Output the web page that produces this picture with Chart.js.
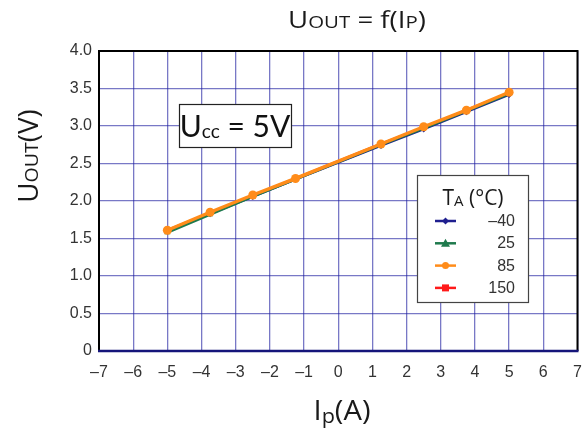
<!DOCTYPE html>
<html>
<head>
<meta charset="utf-8">
<script src="https://cdn.jsdelivr.net/npm/chart.js@4"></script>
<style>
  html, body { margin: 0; padding: 0; background: #fff; }
  #wrap { width: 582px; height: 430px; }
</style>
</head>
<body>
<div id="wrap"><canvas id="uoutChart" width="582" height="430"></canvas></div>
<script>
// U_OUT = f(I_P) at Ucc = 5V, four temperatures
const currentA = [-5, -3.75, -2.5, -1.25, 1.25, 2.5, 3.75, 5];
const uoutM40 = [1.60, 1.83, 2.06, 2.29, 2.74, 2.96, 3.19, 3.42];
const uout25  = [1.58, 1.82, 2.06, 2.29, 2.75, 2.97, 3.20, 3.43];
const uout85  = [1.61, 1.85, 2.08, 2.30, 2.76, 2.99, 3.21, 3.45];
const uout150 = [1.61, 1.84, 2.07, 2.30, 2.76, 2.98, 3.21, 3.44];
const tempLabels = ['\u201340', '25', '85', '150'];
const xTicks = [-7, -6, -5, -4, -3, -2, -1, 0, 1, 2, 3, 4, 5, 6, 7];
const yTicks = [0, 0.5, 1, 1.5, 2, 2.5, 3, 3.5, 4];

const colors = ['#1f1f8f', '#1f7a4d', '#ff8c1a', '#ff1a1a'];
const markers = ['rectRot', 'triangle', 'circle', 'rect'];

function toPoints(ys) {
    return currentA.map((x, i) => ({ x: x, y: ys[i] }));
}

const series = [uoutM40, uout25, uout85, uout150];
const drawOrder = [2, 1, 0, 3];

const datasets = series.map((ys, i) => ({
    label: tempLabels[i],
    data: toPoints(ys),
    borderColor: colors[i],
    backgroundColor: colors[i],
    borderWidth: i === 2 ? 3.5 : 2.5,
    pointStyle: markers[i],
    pointRadius: i === 2 ? 4.5 : 3.5,
    pointBorderWidth: 0,
    tension: 0,
    order: drawOrder[i]
}));

// text with subscripts: parts = [[text, size, dy], ...], sx = horizontal stretch
function richWidth(ctx, parts, family) {
    let w = 0;
    parts.forEach(p => {
        ctx.font = p[1] + 'px ' + family;
        w += ctx.measureText(p[0]).width;
    });
    return w;
}
function drawRich(ctx, parts, x, y, family, color, sx) {
    sx = sx || 1;
    const w = richWidth(ctx, parts, family);
    ctx.save();
    ctx.translate(x, y);
    ctx.scale(sx, 1);
    let cx = -w / 2;
    ctx.fillStyle = color;
    ctx.textBaseline = 'alphabetic';
    ctx.textAlign = 'left';
    parts.forEach(p => {
        ctx.font = p[1] + 'px ' + family;
        ctx.fillText(p[0], cx, p[2] || 0);
        cx += ctx.measureText(p[0]).width;
    });
    ctx.restore();
}

const FAM = '"Open Sans", Lato, sans-serif';
const FAM2 = 'Lato, "Open Sans", sans-serif';

const decorations = {
    id: 'decorations',
    afterDraw(chart) {
        const ctx = chart.ctx;
        const a = chart.chartArea;
        ctx.save();

        // frame
        ctx.strokeStyle = '#000';
        ctx.lineWidth = 2;
        ctx.beginPath();
        ctx.moveTo(a.left, a.bottom);
        ctx.lineTo(a.left, a.top);
        ctx.lineTo(a.right, a.top);
        ctx.lineTo(a.right, a.bottom);
        ctx.stroke();
        ctx.strokeStyle = '#15157a';
        ctx.lineWidth = 2.5;
        ctx.beginPath();
        ctx.moveTo(a.left - 1, a.bottom);
        ctx.lineTo(a.right + 1, a.bottom);
        ctx.stroke();

        // title
        drawRich(ctx, [['U', 23], ['OUT', 17, 0], [' = f(I', 23], ['P', 17, 0], [')', 23]],
            357, 28, FAM, '#1a1a1a', 1.2);

        // x axis title
        drawRich(ctx, [['I', 27], ['p', 20, 3], ['(A)', 27]], 342, 420, FAM, '#1a1a1a', 1.08);

        // y axis title
        ctx.save();
        ctx.translate(38, 156);
        ctx.rotate(-Math.PI / 2);
        drawRich(ctx, [['U', 27], ['OUT', 19, 0], ['(V)', 27]], 0, 0, FAM, '#1a1a1a', 1.03);
        ctx.restore();

        // Ucc box
        ctx.fillStyle = '#fff';
        ctx.fillRect(179, 104, 113, 44);
        ctx.strokeStyle = '#222';
        ctx.lineWidth = 1.2;
        ctx.strokeRect(179.5, 104.5, 112, 43);
        drawRich(ctx, [['U', 30], ['cc', 19, 1], [' = 5V', 30]], 235, 137, FAM2, '#111');

        // legend box
        ctx.fillStyle = '#fff';
        ctx.fillRect(417, 175, 112, 128);
        ctx.strokeStyle = '#444';
        ctx.lineWidth = 1.2;
        ctx.strokeRect(417.5, 175.5, 111, 127);
        drawRich(ctx, [['T', 21], ['A', 15, 1], [' (\u00b0C)', 21]], 473, 205, FAM, '#1a1a1a');

        chart.data.datasets.forEach((ds, i) => {
            const base = 226 + i * 22.3;
            const ly = base - 5;
            ctx.strokeStyle = ds.borderColor;
            ctx.lineWidth = 2.5;
            ctx.beginPath();
            ctx.moveTo(435, ly);
            ctx.lineTo(456, ly);
            ctx.stroke();
            ctx.fillStyle = ds.backgroundColor;
            const r = 3.5;
            ctx.beginPath();
            if (ds.pointStyle === 'circle') {
                ctx.arc(445.5, ly, r, 0, Math.PI * 2);
            } else if (ds.pointStyle === 'rect') {
                ctx.rect(445.5 - r, ly - r, 2 * r, 2 * r);
            } else if (ds.pointStyle === 'triangle') {
                ctx.moveTo(445.5, ly - r - 1);
                ctx.lineTo(445.5 + r + 1, ly + r);
                ctx.lineTo(445.5 - r - 1, ly + r);
                ctx.closePath();
            } else {
                ctx.moveTo(445.5, ly - r);
                ctx.lineTo(445.5 + r, ly);
                ctx.lineTo(445.5, ly + r);
                ctx.lineTo(445.5 - r, ly);
                ctx.closePath();
            }
            ctx.fill();
            ctx.fillStyle = '#333';
            ctx.font = '16px "Liberation Sans", Arial, sans-serif';
            ctx.textAlign = 'right';
            ctx.textBaseline = 'alphabetic';
            ctx.fillText(ds.label, 515, base);
        });

        ctx.restore();
    }
};

const gridColor = 'rgba(30, 30, 160, 0.6)';

const ctx = document.getElementById('uoutChart').getContext('2d');
const uoutChart = new Chart(ctx, {
    type: 'line',
    data: { datasets: datasets },
    options: {
        responsive: false,
        animation: false,
        layout: { padding: { left: 0, top: 51, right: 4, bottom: 0 } },
        plugins: {
            legend: { display: false },
            title: { display: false },
            tooltip: { enabled: false }
        },
        scales: {
            x: {
                type: 'linear',
                min: -7,
                max: 7,
                afterBuildTicks: s => { s.ticks = xTicks.map(v => ({ value: v })); },
                afterFit: s => { s.height = 79; s.paddingLeft = 0; s.paddingRight = 0; },
                grid: { color: gridColor, lineWidth: 1.3, drawTicks: false },
                border: { display: false },
                ticks: {
                    padding: 12,
                    color: '#333',
                    font: { family: '"Liberation Sans", Arial, sans-serif', size: 16 },
                    callback: v => String(v).replace('-', '\u2013')
                }
            },
            y: {
                min: 0,
                max: 4,
                afterBuildTicks: s => { s.ticks = yTicks.map(v => ({ value: v })); },
                afterFit: s => { s.width = 99; s.paddingTop = 0; s.paddingBottom = 0; },
                grid: { color: gridColor, lineWidth: 1.3, drawTicks: false },
                border: { display: false },
                ticks: {
                    padding: 7,
                    color: '#333',
                    font: { family: '"Liberation Sans", Arial, sans-serif', size: 16 },
                    callback: v => v === 0 ? '0' : v.toFixed(1)
                }
            }
        }
    },
    plugins: [decorations]
});
</script>
</body>
</html>
